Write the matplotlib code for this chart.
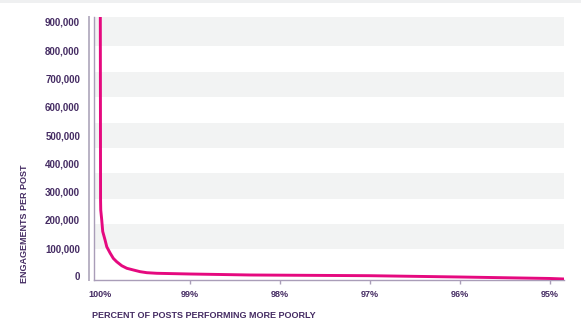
import matplotlib
matplotlib.use('Agg')
import matplotlib.pyplot as plt

# curve: percent of posts performing more poorly vs engagements
pct = [100.0, 99.997, 99.995, 99.984, 99.973, 99.947, 99.928, 99.891, 99.855, 99.817,
       99.761, 99.705, 99.632, 99.557, 99.482, 99.371, 99.0, 98.33, 97.0, 96.0, 95.0, 94.84]
engagements = [1000000, 270000, 235000, 200000, 159000, 129000, 105000, 83000, 64000, 52000,
               38000, 29000, 23000, 17000, 13400, 11300, 8800, 5300, 2800, -1800, -7000, -8800]

y_ticks = [0, 100000, 200000, 300000, 400000, 500000, 600000, 700000, 800000, 900000]
x_ticks = [100, 99, 98, 97, 96, 95]
x_tick_labels = ['100%', '99%', '98%', '97%', '96%', '95%']

# shaded bands behind the plot
band_lo = [97000, 274000, 454000, 634000, 815000]
band_hi = [186000, 366000, 543000, 723000, 917000]

pink = '#E5097F'
purple = '#452C63'
axis_grey = '#A99DB8'

plt.rcParams['font.family'] = ['Liberation Sans', 'DejaVu Sans']

fig = plt.figure(figsize=(5.81, 3.33), dpi=100)
ax = fig.add_axes([94 / 581, 1 - 280 / 333, 470 / 581, 263 / 333])

for lo, hi in zip(band_lo, band_hi):
    ax.axhspan(lo, hi, color='#F2F3F3', lw=0, zorder=0)

ax.plot(pct, engagements, color=pink, lw=2.1, solid_capstyle='round',
        solid_joinstyle='round', zorder=3)

ax.set_xlim(100.07, 94.84)
ax.set_ylim(-12400, 917000)

ax.set_yticks(y_ticks)
ax.set_yticklabels([f'{v:,}' for v in y_ticks])
ax.set_xticks(x_ticks)
ax.set_xticklabels(x_tick_labels)

ax.tick_params(axis='y', length=0, pad=10, labelsize=7, labelcolor=purple)
ax.tick_params(axis='x', length=3, width=1, color=axis_grey, pad=4,
               labelsize=6.5, labelcolor=purple)
ax.xaxis.get_major_ticks()[0].tick1line.set_visible(False)
for lbl in ax.get_yticklabels() + ax.get_xticklabels():
    lbl.set_fontweight('bold')

for s in ['top', 'right']:
    ax.spines[s].set_visible(False)
for s in ['left', 'bottom']:
    ax.spines[s].set_color(axis_grey)
    ax.spines[s].set_linewidth(1)

# second vertical line left of the axis
ax.plot([-0.0113, -0.0113], [0, 1], transform=ax.transAxes, color='#B9B2C4',
        lw=1.4, clip_on=False)

fig.patches.append(plt.Rectangle((0, 1 - 3 / 333), 1, 3 / 333, transform=fig.transFigure,
                                 color='#EFF0F1', lw=0))

fig.text(92 / 581, 1 - 316 / 333, 'PERCENT OF POSTS PERFORMING MORE POORLY',
         ha='left', va='center', fontsize=6.5, fontweight='bold', color=purple)
fig.text(25 / 581, 1 - 223.5 / 333, 'ENGAGEMENTS PER POST', rotation=90,
         ha='center', va='center', fontsize=6.5, fontweight='bold', color=purple)

plt.savefig('out.png', dpi=100)
